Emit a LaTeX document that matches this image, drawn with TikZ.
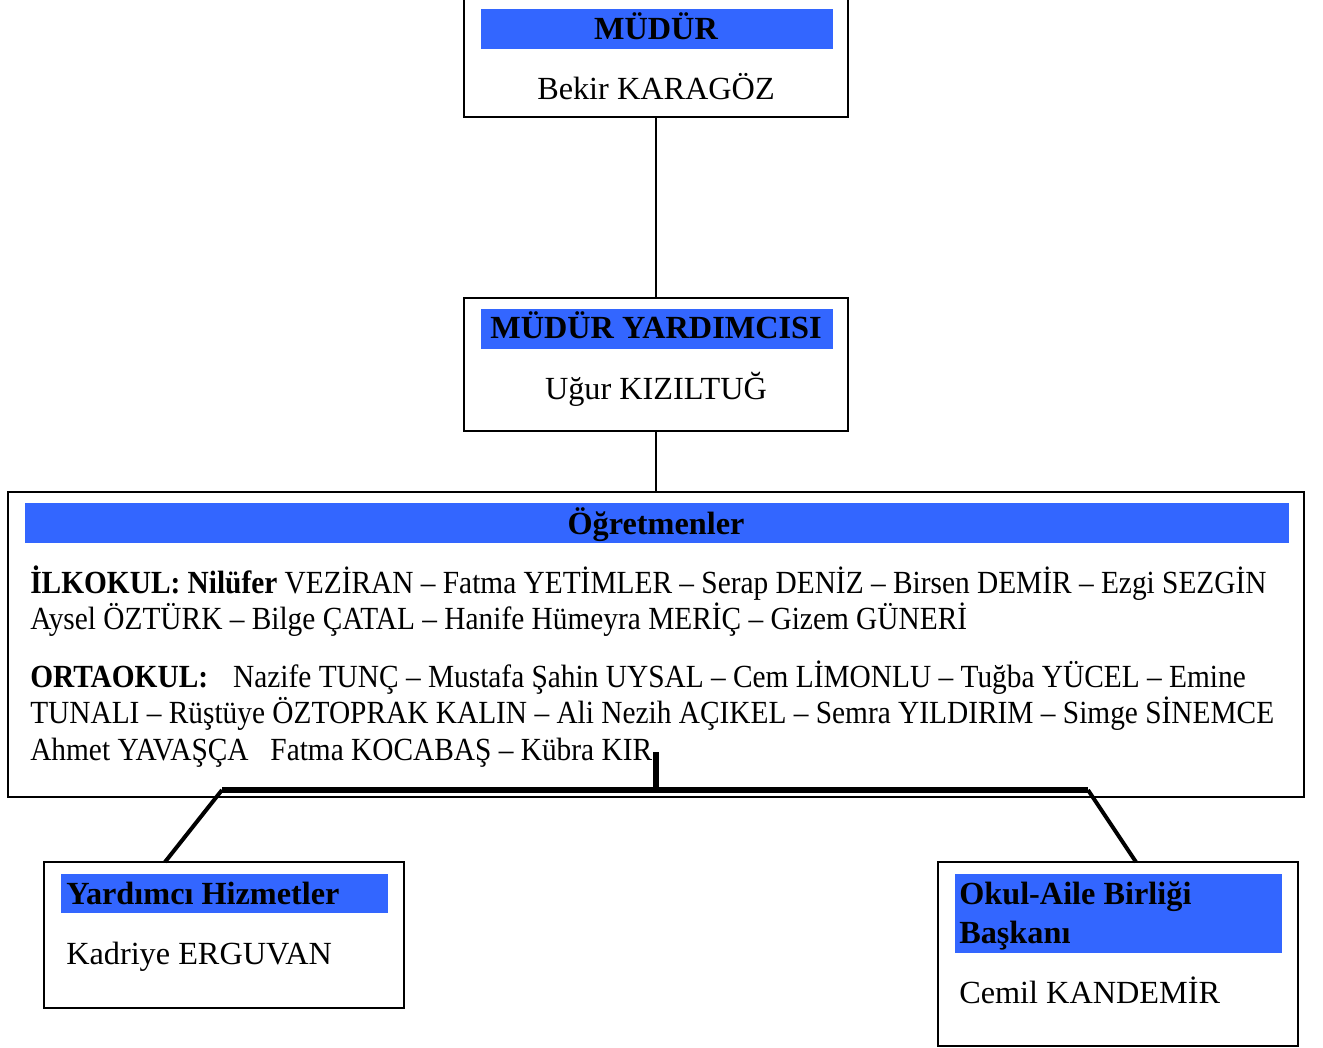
\documentclass[tikz,border=0pt]{standalone}
\usepackage{fontspec}
\setmainfont{Liberation Serif}
\newfontfamily\bodyfont[FakeStretch=0.91]{Liberation Serif}
\usetikzlibrary{fit}
\definecolor{bandblue}{RGB}{51,102,255}
\begin{document}
\begin{tikzpicture}[x=0.75pt,y=-0.75pt,
  boxst/.style={draw=black,line width=1.5pt,fill=white,inner sep=0pt},
  bandst/.style={fill=bandblue,draw=none,inner sep=0pt},
  txt/.style={inner sep=0pt,font=\fontsize{24.2pt}{29pt}\selectfont},
  btxt/.style={inner sep=0pt,font=\fontsize{24.2pt}{29pt}\selectfont\bfseries},
  body/.style={inner sep=0pt,font=\bodyfont\fontsize{24.2pt}{29pt}\selectfont},
  thinline/.style={line width=1.5pt},
  thickline/.style={line width=3.8pt},
  diagline/.style={line width=3pt}]
\useasboundingbox (0,0) rectangle (1323,1048);
% boxes
\node[boxst,fit={(464,-3) (848,117)}] (mudur) {};
\node[boxst,fit={(464,298) (848,431)}] (myard) {};
\node[boxst,fit={(8,492) (1304,797)}] (ogr) {};
\node[boxst,fit={(44,862) (404,1008)}] (yh) {};
\node[boxst,fit={(938,862) (1298,1046)}] (oab) {};
% bands
\node[bandst,fit={(481,9) (833,49)}] (b1) {};
\node[bandst,fit={(481,309) (833,349)}] (b2) {};
\node[bandst,fit={(25,503) (1289,543)}] (b3) {};
\node[bandst,fit={(61,874) (388,913)}] (b4) {};
\node[bandst,fit={(955,874) (1282,953)}] (b5) {};
% texts
\node[btxt,anchor=base] (t1) at (656,40) {MÜDÜR};
\node[txt,anchor=base] (t2) at (656,100) {Bekir KARAGÖZ};
\node[btxt,anchor=base] (t3) at (656,339) {MÜDÜR YARDIMCISI};
\node[txt,anchor=base] (t4) at (656,399) {Uğur KIZILTUĞ};
\node[btxt,anchor=base] (t5) at (656,534) {Öğretmenler};
\node[body,anchor=base west] (l1) at (30,593) {\textbf{İLKOKUL: Nilüfer} VEZİRAN – Fatma YETİMLER – Serap DENİZ – Birsen DEMİR – Ezgi SEZGİN};
\node[body,anchor=base west] (l2) at (30,629) {Aysel ÖZTÜRK – Bilge ÇATAL – Hanife Hümeyra MERİÇ – Gizem GÜNERİ};
\node[body,anchor=base west] (l3) at (30,687) {\textbf{ORTAOKUL:}\hspace{0.55em} Nazife TUNÇ – Mustafa Şahin UYSAL – Cem LİMONLU – Tuğba YÜCEL – Emine};
\node[body,anchor=base west] (l4) at (30,723) {TUNALI – Rüştüye ÖZTOPRAK KALIN – Ali Nezih AÇIKEL – Semra YILDIRIM – Simge SİNEMCE};
\node[body,anchor=base west] (l5) at (30,760) {Ahmet YAVAŞÇA\hspace{0.45em} Fatma KOCABAŞ – Kübra KIR};
\node[btxt,anchor=base west] (t6) at (66,904) {Yardımcı Hizmetler};
\node[txt,anchor=base west] (t7) at (66,964) {Kadriye ERGUVAN};
\node[btxt,anchor=base west] (t8) at (959,904) {Okul-Aile Birliği};
\node[btxt,anchor=base west] (t9) at (959,943) {Başkanı};
\node[txt,anchor=base west] (t10) at (959,1003) {Cemil KANDEMİR};
% connectors
\draw[thinline] (mudur.south) -- (myard.north);
\draw[thinline] (myard.south) -- (ogr.north);
\coordinate (jt) at (656,752);
\coordinate (jc) at (656,790);
\coordinate (jl) at (222,790);
\coordinate (jr) at (1088,790);
\coordinate (yht) at (165,862);
\coordinate (oabt) at (1136,862);
\draw[thickline] (jt) -- (jc);
\draw[thickline] (jl) -- (jr);
\draw[diagline] (jl) -- (yht);
\draw[diagline] (jr) -- (oabt);
\end{tikzpicture}
\end{document}
